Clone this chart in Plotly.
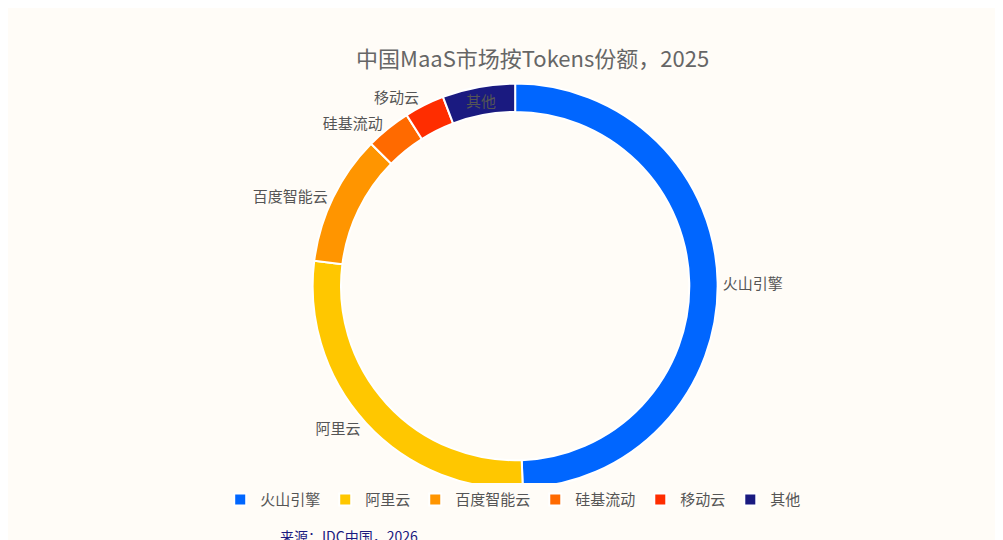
import plotly.graph_objects as go

labels = ["火山引擎", "阿里云", "百度智能云", "硅基流动", "移动云", "其他"]
values = [49.4, 27.6, 10.4, 3.6, 3.2, 5.8]
colors = ["#0066FF", "#FFC700", "#FF9500", "#FF6A00", "#FF2D00", "#1A1A80"]
positions = ["outside", "outside", "outside", "outside", "outside", "inside"]

fig = go.Figure(go.Pie(
    labels=labels, values=values, hole=0.86, sort=False, direction="clockwise",
    rotation=0, marker=dict(colors=colors, line=dict(color="white", width=2)),
    textinfo="label", textposition=positions,
    outsidetextfont=dict(color="#555555", size=15),
    insidetextfont=dict(color="#555555", size=15),
    insidetextorientation="horizontal",
    domain=dict(x=[0.2, 0.85], y=[0.11, 0.86]),
))
fig.update_layout(
    width=1003, height=540,
    paper_bgcolor="#FFFCF7", plot_bgcolor="#FFFCF7",
    font=dict(family="Noto Sans CJK SC", color="#555555"),
    uniformtext=dict(minsize=15, mode="show"),
    title=dict(text="中国MaaS市场按Tokens份额，2025", x=0.523, y=0.905, xanchor="center", yanchor="middle",
               font=dict(size=22, color="#666666")),
    legend=dict(orientation="h", x=0.523, xanchor="center", y=0.12, yanchor="top",
                font=dict(size=15, color="#555555")),
    margin=dict(l=0, r=0, t=0, b=0),
    annotations=[dict(text="来源：IDC中国，2026", x=0.28, y=0.0, xref="paper", yref="paper",
                      xanchor="left", yanchor="bottom", showarrow=False,
                      font=dict(size=14, color="#1A1A80"))],
)
fig.write_html("out.html")
